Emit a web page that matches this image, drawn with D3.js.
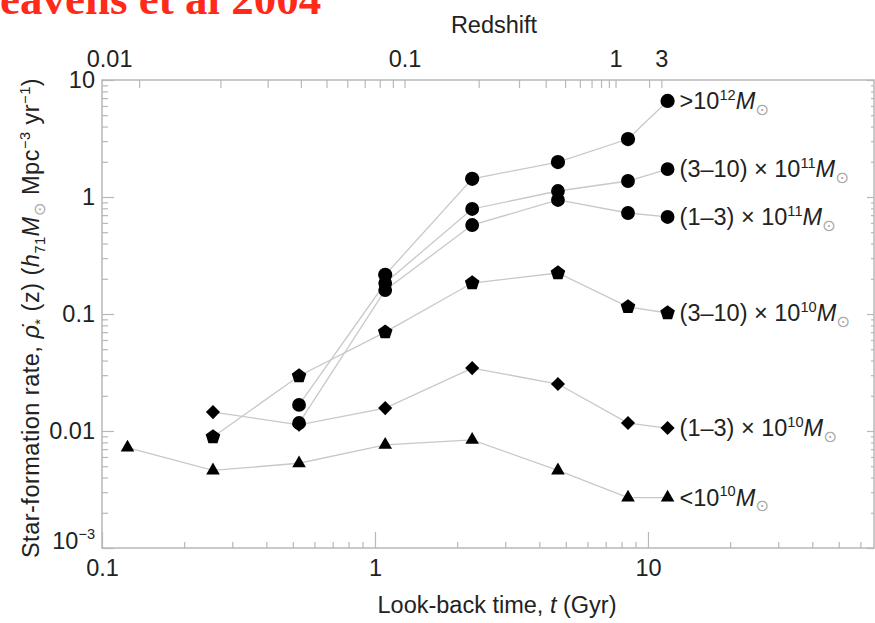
<!DOCTYPE html>
<html>
<head>
<meta charset="utf-8">
<script src="https://cdn.jsdelivr.net/npm/d3@7"></script>
<style>
  body { margin: 0; background: #fff; }
  svg { display: block; }
</style>
</head>
<body>
<div id="chart"></div>
<script>
const width = 875, height = 623;
const margin = { top: 80, right: 1, bottom: 75, left: 102 };
const fs = 23.5;

// look-back time bins (Gyr)
const times = [0.124, 0.255, 0.527, 1.09, 2.27, 4.68, 8.45, 11.8];

// star-formation rate per mass bin, null = no point
const sfrBelow1e10 = [0.0072, 0.0046, 0.0053, 0.0076, 0.0084, 0.0046, 0.0027, 0.0027];
const sfr1to3e10 = [null, 0.0145, 0.0113, 0.0157, 0.0345, 0.0252, 0.0117, 0.0106];
const sfr3to10e10 = [null, 0.0089, 0.0295, 0.07, 0.184, 0.224, 0.115, 0.102];
const sfr1to3e11 = [null, null, 0.0117, 0.16, 0.576, 0.943, 0.73, 0.675];
const sfr3to10e11 = [null, null, 0.0167, 0.184, 0.79, 1.125, 1.37, 1.73];
const sfrAbove1e12 = [null, null, null, 0.216, 1.43, 1.99, 3.13, 6.62];

// tick labels
const xTickLabels = [0.1, 1, 10];
const yTickLabels = [10, 1, 0.1, 0.01, 0.001];
const zTicks = [0.01, 0.02, 0.03, 0.04, 0.05, 0.06, 0.07, 0.08, 0.09,
  0.1, 0.2, 0.3, 0.4, 0.5, 0.6, 0.7, 0.8, 0.9, 1, 2, 3];
const zTickLabels = [0.01, 0.1, 1, 3];

// pentagon marker (d3 has none)
const symbolPentagon = {
  draw(ctx, size) {
    const r = Math.sqrt(size / 2.378);
    for (let i = 0; i < 5; i++) {
      const a = -Math.PI / 2 + i * 2 * Math.PI / 5;
      if (i === 0) ctx.moveTo(r * Math.cos(a), r * Math.sin(a));
      else ctx.lineTo(r * Math.cos(a), r * Math.sin(a));
    }
    ctx.closePath();
  },
};

const series = [
  { values: sfrAbove1e12, symbol: d3.symbolCircle, size: 160, rot: 0,
    label: [">10", ["12", "sup"], ["M", "it"], ["⊙", "sun"]] },
  { values: sfr3to10e11, symbol: d3.symbolCircle, size: 150, rot: 0,
    label: ["(3–10) × 10", ["11", "sup"], ["M", "it"], ["⊙", "sun"]] },
  { values: sfr1to3e11, symbol: d3.symbolCircle, size: 150, rot: 0,
    label: ["(1–3) × 10", ["11", "sup"], ["M", "it"], ["⊙", "sun"]] },
  { values: sfr3to10e10, symbol: symbolPentagon, size: 140, rot: 0,
    label: ["(3–10) × 10", ["10", "sup"], ["M", "it"], ["⊙", "sun"]] },
  { values: sfr1to3e10, symbol: d3.symbolSquare, size: 100, rot: 45,
    label: ["(1–3) × 10", ["10", "sup"], ["M", "it"], ["⊙", "sun"]] },
  { values: sfrBelow1e10, symbol: d3.symbolTriangle, size: 80, rot: 0,
    label: ["<10", ["10", "sup"], ["M", "it"], ["⊙", "sun"]] },
];

// look-back time for redshift z, flat LCDM, H0 = 71
function lookback(z) {
  const om = 0.3, ol = 0.7, tH = 977.8 / 71;
  const f = (zz) => 1 / ((1 + zz) * Math.sqrt(om * Math.pow(1 + zz, 3) + ol));
  const n = 200, h = z / n;
  let s = f(0) + f(z);
  for (let i = 1; i < n; i++) s += (i % 2 ? 4 : 2) * f(i * h);
  return tH * s * h / 3;
}

const x = d3.scaleLog()
  .domain([0.1, 67.3])
  .range([margin.left, width - margin.right]);
const y = d3.scaleLog()
  .domain([0.001, 10])
  .range([height - margin.bottom, margin.top]);

const svg = d3.select("#chart").append("svg")
  .attr("width", width)
  .attr("height", height)
  .style("font-family", "'Liberation Sans', Arial, sans-serif");

const gray = "#b8b8b8";
const ink = "#222";

// rich text: sup/sub/italic/sun pieces
function richText(t, parts, size) {
  let shift = 0;
  parts.forEach((p) => {
    const [str, kind] = Array.isArray(p) ? p : [p, ""];
    const target = kind === "sup" ? -0.4 * size : (kind === "sub" || kind === "sun") ? 0.25 * size : 0;
    const ts = t.append("tspan").attr("dy", target - shift).text(str);
    shift = target;
    if (kind === "sup" || kind === "sub") ts.attr("font-size", 0.62 * size);
    if (kind === "it") ts.attr("font-style", "italic");
    if (kind === "sun") {
      ts.attr("font-size", 0.7 * size).attr("fill", "#aaa")
        .attr("font-family", "'DejaVu Sans', sans-serif");
    }
  });
}

// title, cut off by the page edge like the original
svg.append("text")
  .attr("x", -35)
  .attr("y", 14)
  .attr("font-family", "'Liberation Serif', 'Times New Roman', serif")
  .attr("font-weight", "bold")
  .attr("font-size", 45)
  .attr("fill", "#ff2a1a")
  .text("Heavens et al 2004");

// frame
svg.append("rect")
  .attr("x", margin.left)
  .attr("y", margin.top)
  .attr("width", width - margin.right - margin.left)
  .attr("height", height - margin.bottom - margin.top)
  .attr("fill", "none")
  .attr("stroke", gray)
  .attr("stroke-width", 1.5);

// minor tick values
const xMinor = [];
[0.1, 1, 10].forEach((b) => { for (let k = 1; k < 10; k++) if (b * k <= 67) xMinor.push(b * k); });
const yMinor = [];
[0.001, 0.01, 0.1, 1].forEach((b) => { for (let k = 1; k < 10; k++) yMinor.push(b * k); });
yMinor.push(10);

const isMajor = (v) => Math.abs(Math.log10(v) - Math.round(Math.log10(v))) < 1e-6;

function styleAxis(g) {
  g.select(".domain").remove();
  g.selectAll(".tick line").attr("stroke", gray).attr("stroke-width", 1.2);
  g.selectAll(".tick text").attr("fill", ink).attr("font-size", fs);
}

// bottom axis
svg.append("g")
  .attr("transform", `translate(0,${height - margin.bottom})`)
  .call(d3.axisBottom(x).tickValues(xMinor).tickSize(-6).tickPadding(11)
    .tickFormat((d) => xTickLabels.some((v) => Math.abs(v - d) < 1e-9) ? d3.format("~g")(d) : ""))
  .call(styleAxis)
  .call((g) => g.selectAll(".tick line").filter((d) => isMajor(d)).attr("y2", -16));

svg.append("text")
  .attr("x", 497)
  .attr("y", 613)
  .attr("text-anchor", "middle")
  .attr("font-size", fs)
  .attr("fill", ink)
  .call((t) => richText(t, ["Look-back time, ", ["t", "it"], " (Gyr)"], fs));

// left axis
const yLeft = svg.append("g")
  .attr("transform", `translate(${margin.left},0)`)
  .call(d3.axisLeft(y).tickValues(yMinor).tickSize(-6).tickPadding(7)
    .tickFormat((d) => yTickLabels.some((v) => Math.abs(v - d) < 1e-9) && d > 0.001 ? d3.format("~g")(d) : ""))
  .call(styleAxis)
  .call((g) => g.selectAll(".tick line").filter((d) => isMajor(d)).attr("x2", 12));

yLeft.selectAll(".tick text").filter((d) => Math.abs(d - 0.001) < 1e-9)
  .text(null)
  .call((t) => richText(t, ["10", ["−3", "sup"]], fs));

// right axis, ticks only
svg.append("g")
  .attr("transform", `translate(${width - margin.right},0)`)
  .call(d3.axisRight(y).tickValues(yMinor).tickSize(-3).tickFormat(""))
  .call(styleAxis)
  .call((g) => g.selectAll(".tick line").filter((d) => isMajor(d)).attr("x2", -7));

// y label
svg.append("text")
  .attr("transform", "translate(39,318) rotate(-90)")
  .attr("text-anchor", "middle")
  .attr("font-size", fs)
  .attr("letter-spacing", 0.5)
  .attr("fill", ink)
  .call((t) => richText(t, ["Star-formation rate, ", ["ρ̇", "it"], ["*", "sub"], " (z)   (",
    ["h", "it"], ["71", "sub"], ["M", "it"], ["⊙", "sun"], "   Mpc", ["−3", "sup"], " yr", ["−1", "sup"], ")"], fs));

// top axis: redshift mapped onto look-back time
const topAxis = svg.append("g")
  .attr("transform", `translate(0,${margin.top})`)
  .call(d3.axisTop(x).tickValues(zTicks.map(lookback)).tickSize(-8).tickPadding(13)
    .tickFormat((d, i) => zTickLabels.includes(zTicks[i]) ? d3.format("~g")(zTicks[i]) : ""))
  .call(styleAxis);

// 0.01 label sits left of its tick in the original
topAxis.selectAll(".tick text").filter((d, i) => i === 0).attr("dx", -30);

svg.append("text")
  .attr("x", 494)
  .attr("y", 33)
  .attr("text-anchor", "middle")
  .attr("font-size", fs)
  .attr("fill", ink)
  .text("Redshift");

// lines
const line = d3.line()
  .defined((d) => d.v != null)
  .x((d) => x(d.t))
  .y((d) => y(d.v));

const pts = (s) => times.map((t, i) => ({ t, v: s.values[i] }));

svg.append("g")
  .selectAll("path")
  .data(series)
  .join("path")
  .attr("d", (s) => line(pts(s)))
  .attr("fill", "none")
  .attr("stroke", "#c8c8c8")
  .attr("stroke-width", 1.3);

// markers
series.forEach((s) => {
  svg.append("g")
    .selectAll("path")
    .data(pts(s).filter((d) => d.v != null))
    .join("path")
    .attr("transform", (d) => `translate(${x(d.t)},${y(d.v)}) rotate(${s.rot})`)
    .attr("d", d3.symbol(s.symbol, s.size))
    .attr("fill", "#000");
});

// end labels
series.forEach((s) => {
  const last = s.values.length - 1;
  svg.append("text")
    .attr("x", x(times[last]) + 12)
    .attr("y", y(s.values[last]) + 8)
    .attr("font-size", fs)
    .attr("fill", ink)
    .call((t) => richText(t, s.label, fs));
});
</script>
</body>
</html>
